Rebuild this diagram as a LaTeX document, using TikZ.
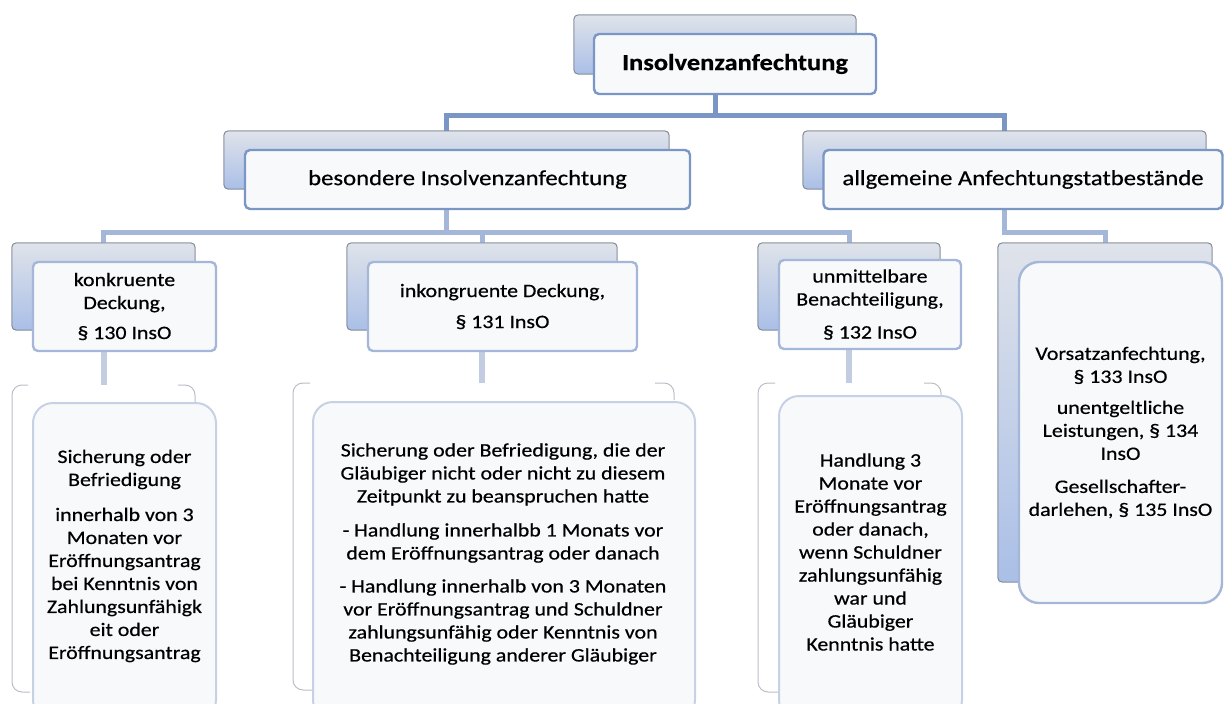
\documentclass[tikz,border=0pt]{standalone}
\usepackage{fontspec}
\setmainfont{Carlito}[FakeStretch=1.15, FakeBold=0.5]
\definecolor{lineA}{HTML}{7A96C5}
\definecolor{lineB}{HTML}{A5B7D8}
\definecolor{lineC}{HTML}{C3CDE2}
\definecolor{backTop}{HTML}{DFE3EA}
\definecolor{backBot}{HTML}{AABFE7}
\definecolor{backEdge}{HTML}{7E8594}
\definecolor{frontFill}{HTML}{F8F9FB}
\definecolor{softEdge}{HTML}{C7D1E6}
\definecolor{bracketC}{HTML}{B9BEC8}
\newcommand\fsbody{\fontsize{19}{23}\selectfont}
\newcommand\fsone{\fontsize{21.5}{25}\selectfont}
\newcommand\fstitle{\fontsize{23}{27}\selectfont\bfseries}
\begin{document}
\begin{tikzpicture}[x=1pt,y=-1pt,
  backbox/.style={draw=backEdge, line width=0.8pt, rounded corners=4pt,
    top color=backTop, bottom color=backBot, inner sep=0pt},
  frontbox/.style={draw=lineA, line width=2.4pt, rounded corners=5pt,
    fill=frontFill, inner sep=0pt, align=center},
  frontboxL/.style={frontbox, draw=lineB},
  detailbox/.style={draw=softEdge, line width=2pt, rounded corners=20pt,
    fill=frontFill, inner sep=0pt},
  bodytext/.style={align=center, font=\fsbody, inner sep=0pt},
  bracket/.style={draw=bracketC, line width=1pt, rounded corners=10pt},
  connA/.style={draw=lineA, line width=5pt},
  connB/.style={draw=lineB, line width=5pt},
  connC/.style={draw=lineC, line width=6pt}]
\useasboundingbox (0,0) rectangle (1224,704);
\clip (0,0) rectangle (1224,704);

% connector joints and free ends
\coordinate (j0) at (715,115);
\coordinate (j1) at (446.5,232);
\coordinate (j2) at (1004.5,232);
\coordinate (kbt) at (103.5,385);
\coordinate (ikbt) at (482,383);
\coordinate (umbt) at (849,383);

% back boxes (placed first so connectors can refer to them)
\path (715,44.5) node[backbox, minimum width=282pt, minimum height=59pt] (topb) {};
\path (446.5,160) node[backbox, minimum width=445pt, minimum height=58pt] (besb) {};
\path (1004.5,160) node[backbox, minimum width=403pt, minimum height=58pt] (allb) {};
\path (103.5,286.5) node[backbox, minimum width=183pt, minimum height=87pt] (kb) {};
\path (482,286.5) node[backbox, minimum width=270pt, minimum height=87pt] (ikb) {};
\path (849,286.5) node[backbox, minimum width=182pt, minimum height=87pt] (umb) {};
\path (1105,412.5) node[backbox, minimum width=214pt, minimum height=339pt] (vsb) {};

% connectors
\draw[connA] (topb.south) -- (j0) -| (besb.north);
\draw[connA] (j0) -| (allb.north);
\draw[connB] (besb.south) -- (j1);
\draw[connB] (j1) -| (kb.north);
\draw[connB] (j1) -| (ikb.north);
\draw[connB] (j1) -| (umb.north);
\draw[connB] (allb.south) -- (j2) -| (vsb.north);
\draw[connC] (kb.south) -- (kbt);
\draw[connC] (ikb.south) -- (ikbt);
\draw[connC] (umb.south) -- (umbt);

% back boxes again, over the connector ends
\path (715,44.5) node[backbox, minimum width=282pt, minimum height=59pt] {};
\path (446.5,160) node[backbox, minimum width=445pt, minimum height=58pt] {};
\path (1004.5,160) node[backbox, minimum width=403pt, minimum height=58pt] {};
\path (103.5,286.5) node[backbox, minimum width=183pt, minimum height=87pt] {};
\path (482,286.5) node[backbox, minimum width=270pt, minimum height=87pt] {};
\path (849,286.5) node[backbox, minimum width=182pt, minimum height=87pt] {};
\path (1105,412.5) node[backbox, minimum width=214pt, minimum height=339pt] {};

% front boxes
\node[frontbox, minimum width=282pt, minimum height=60pt, font=\fstitle] (top) at (735,64) {Insolvenzanfechtung};
\node[frontbox, minimum width=445pt, minimum height=59pt, font=\fsone] (bes) at (467.5,179.5) {besondere Insolvenzanfechtung};
\node[frontbox, minimum width=399pt, minimum height=59pt, font=\fsone] (all) at (1023,179.5) {allgemeine Anfechtungstatbestände};
\node[frontboxL, minimum width=183pt, minimum height=89pt, font=\fsbody] (k) at (124.5,306.5) {konkruente\\Deckung,\\[7pt]§ 130 InsO};
\node[frontboxL, minimum width=269pt, minimum height=89pt, font=\fsbody] (ik) at (502.5,306.5) {inkongruente Deckung,\\[8pt]§ 131 InsO};
\node[frontboxL, minimum width=182pt, minimum height=89pt, font=\fsbody] (um) at (870,304.5) {unmittelbare\\Benachteiligung,\\[10pt]§ 132 InsO};
\node[frontboxL, minimum width=203pt, minimum height=341pt, rounded corners=20pt, font=\fsbody] (vs) at (1120.5,432.5)
  {Vorsatzanfechtung,\\§ 133 InsO\\[8pt]unentgeltliche\\Leistungen, § 134\\InsO\\[10pt]Gesellschafter-\\darlehen, § 135 InsO};

% faint brackets behind detail boxes
\draw[bracket] (28,385) -- (12,385) -- (12,692) -- (30,692);
\draw[bracket] (178,385) -- (195,385) -- (195,402);
\draw[bracket] (310,383) -- (293,383) -- (293,690) -- (312,690);
\draw[bracket] (655,383) -- (674,383) -- (674,400);
\draw[bracket] (775,383) -- (758,383) -- (758,692) -- (778,692);
\draw[bracket] (924,383) -- (941,383) -- (941,396);

% detail boxes
\node[detailbox, minimum width=183pt, minimum height=317pt] (kd) at (124.5,561.5) {};
\node[detailbox, minimum width=382pt, minimum height=318pt] (ikd) at (504,561) {};
\node[detailbox, minimum width=183pt, minimum height=324pt] (umd) at (870.5,558) {};

\node[bodytext] (kdt) at (124.5,556) {Sicherung oder\\Befriedigung\\[12pt]innerhalb von 3\\Monaten vor\\Eröffnungsantrag\\bei Kenntnis von\\Zahlungsunfähigk\\eit oder\\Eröffnungsantrag};
\node[bodytext] (ikdt) at (503,554) {Sicherung oder Befriedigung, die der\\Gläubiger nicht oder nicht zu diesem\\Zeitpunkt zu beanspruchen hatte\\[11pt]- Handlung innerhalbb 1 Monats vor\\dem Eröffnungsantrag oder danach\\[10pt]- Handlung innerhalb von 3 Monaten\\vor Eröffnungsantrag und Schuldner\\zahlungsunfähig oder Kenntnis von\\Benachteiligung anderer Gläubiger};
\node[bodytext] (umdt) at (870.5,552) {Handlung 3\\Monate vor\\Eröffnungsantrag\\oder danach,\\wenn Schuldner\\zahlungsunfähig\\war und\\Gläubiger\\Kenntnis hatte};
\end{tikzpicture}
\end{document}
